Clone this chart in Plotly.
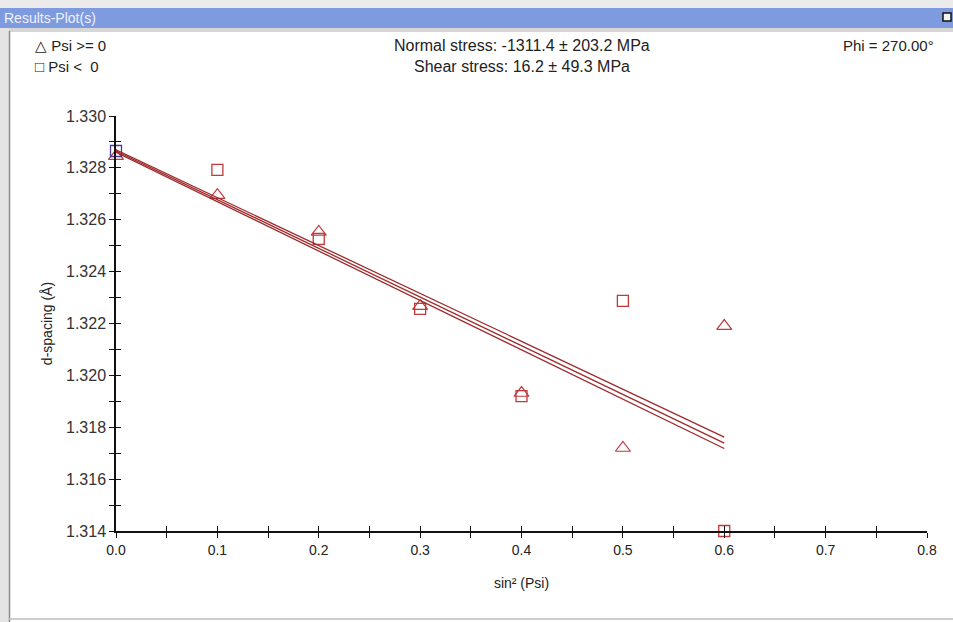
import plotly.graph_objects as go

# ---- data ----
sin2psi = [0.0, 0.1, 0.2, 0.3, 0.4, 0.5, 0.6]
d_psi_pos = [1.32845, 1.32695, 1.32553, 1.32267, 1.31932, 1.31720, 1.32190]   # triangles, Psi >= 0
d_psi_neg = [1.32865, 1.32792, 1.32526, 1.32256, 1.31920, 1.32287, 1.31400]   # squares, Psi < 0
neg_colors = ["#4a3a9c", "#c0393b", "#c0393b", "#c0393b", "#c0393b", "#c0393b", "#c0393b"]

fit_x = [0.0, 0.6]
fit_center = [1.32865, 1.31739]
fit_upper = [1.32870, 1.31762]
fit_lower = [1.32860, 1.31718]

x_tickvals = [0.0, 0.05, 0.1, 0.15, 0.2, 0.25, 0.3, 0.35, 0.4, 0.45, 0.5, 0.55, 0.6, 0.65, 0.7, 0.75, 0.8]
x_ticktext = ["0.0", "", "0.1", "", "0.2", "", "0.3", "", "0.4", "", "0.5", "", "0.6", "", "0.7", "", "0.8"]
y_tickvals = [1.314, 1.315, 1.316, 1.317, 1.318, 1.319, 1.320, 1.321, 1.322, 1.323, 1.324, 1.325,
              1.326, 1.327, 1.328, 1.329, 1.330]
y_ticktext = ["1.314", "", "1.316", "", "1.318", "", "1.320", "", "1.322", "", "1.324", "",
              "1.326", "", "1.328", "", "1.330"]

header_left = ["\u25b3 Psi >= 0", "\u25a1 Psi <  0"]
header_center = ["Normal stress: -1311.4 \u00b1 203.2 MPa", "Shear stress: 16.2 \u00b1 49.3 MPa"]
header_right = "Phi = 270.00\u00b0"
window_title = "Results-Plot(s)"

# ---- geometry ----
W, H = 953, 622
L, R, T, B = 116, 26, 116, 91
PW, PH = W - L - R, H - T - B

def px(x):
    return (x - L) / PW

def py(y):
    return (H - B - y) / PH

FONT = "Liberation Sans, Arial, sans-serif"
RED = "#c0393b"
LINE = "#9e2a2c"
TXT = "#222"

fig = go.Figure()

for yv in (fit_upper, fit_center, fit_lower):
    fig.add_trace(go.Scatter(x=fit_x, y=yv, mode="lines", line=dict(color=LINE, width=1.3),
                             xaxis="x2", yaxis="y2", hoverinfo="skip", showlegend=False))

fig.add_trace(go.Scatter(x=sin2psi, y=d_psi_pos, mode="markers",
                         marker=dict(symbol="triangle-up-open", size=13, color=RED, line=dict(width=1.2)),
                         cliponaxis=False, showlegend=False))
fig.add_trace(go.Scatter(x=sin2psi, y=d_psi_neg, mode="markers",
                         marker=dict(symbol="square-open", size=11, color=neg_colors, line=dict(width=1.3)),
                         cliponaxis=False, showlegend=False))

axis_common = dict(showgrid=False, zeroline=False, ticklen=5, tickwidth=1.3, tickcolor="#111")

fig.update_layout(
    width=W, height=H,
    margin=dict(l=L, r=R, t=T, b=B, pad=0),
    paper_bgcolor="white", plot_bgcolor="white",
    font=dict(family=FONT, color=TXT),
    xaxis=dict(range=[0, 0.8], tickvals=x_tickvals, ticktext=x_ticktext, ticks="outside",
               showline=True, linecolor="#111", linewidth=1.5,
               tickfont=dict(size=14, family=FONT, color=TXT),
               title=dict(text="sin\u00b2 (Psi)", font=dict(size=14, family=FONT, color=TXT), standoff=22),
               **axis_common),
    yaxis=dict(range=[1.314, 1.330], tickvals=y_tickvals, ticktext=y_ticktext, ticks="outside",
               showline=True, linecolor="#111", linewidth=1.5,
               tickfont=dict(size=16, family=FONT, color="#333"),
               title=dict(text="d-spacing (\u00c5)", font=dict(size=14, family=FONT, color=TXT), standoff=10),
               **axis_common),
    xaxis2=dict(range=[0, 0.8], tickvals=x_tickvals, ticks="inside", showticklabels=False,
                showline=False, overlaying="x", anchor="y2", **axis_common),
    yaxis2=dict(range=[1.314, 1.330], tickvals=y_tickvals, ticks="inside", showticklabels=False,
                showline=False, overlaying="y", anchor="x2", **axis_common),
)

shapes = [
    dict(type="rect", xref="paper", yref="paper", x0=px(0), x1=px(W), y0=py(0), y1=py(8),
         fillcolor="#ebebeb", line=dict(width=0), layer="above"),
    dict(type="rect", xref="paper", yref="paper", x0=px(0), x1=px(W), y0=py(8), y1=py(28),
         fillcolor="#7f9be0", line=dict(width=0), layer="above"),
    dict(type="rect", xref="paper", yref="paper", x0=px(0), x1=px(W), y0=py(28), y1=py(32),
         fillcolor="#d6d6d6", line=dict(width=0), layer="above"),
    dict(type="rect", xref="paper", yref="paper", x0=px(0), x1=px(9), y0=py(28), y1=py(H),
         fillcolor="#e4e4e4", line=dict(width=0), layer="above"),
    dict(type="line", xref="paper", yref="paper", x0=px(9.5), x1=px(9.5), y0=py(31), y1=py(H),
         line=dict(color="#8a8a8a", width=1.5), layer="above"),
    dict(type="line", xref="paper", yref="paper", x0=px(9), x1=px(W), y0=py(619), y1=py(619),
         line=dict(color="#bdbdbd", width=1.5), layer="above"),
    dict(type="rect", xref="paper", yref="paper", x0=px(943), x1=px(951), y0=py(13), y1=py(21),
         fillcolor="#f4f4f4", line=dict(color="#111", width=1.5), layer="above"),
]
fig.update_layout(shapes=shapes)

ann = [
    dict(text=window_title, x=px(2), y=py(18), xanchor="left", yanchor="middle",
         font=dict(size=14, color="#eef2fb", family=FONT)),
    dict(text=header_left[0], x=px(33), y=py(45), xanchor="left", yanchor="middle",
         font=dict(size=15, color=TXT, family=FONT)),
    dict(text=header_left[1], x=px(33), y=py(66), xanchor="left", yanchor="middle",
         font=dict(size=15, color=TXT, family=FONT)),
    dict(text=header_center[0], x=px(522), y=py(45), xanchor="center", yanchor="middle",
         font=dict(size=16, color=TXT, family=FONT)),
    dict(text=header_center[1], x=px(522), y=py(66), xanchor="center", yanchor="middle",
         font=dict(size=16, color=TXT, family=FONT)),
    dict(text=header_right, x=px(936), y=py(45), xanchor="right", yanchor="middle",
         font=dict(size=15, color=TXT, family=FONT)),
]
for a in ann:
    a.update(xref="paper", yref="paper", showarrow=False)
fig.update_layout(annotations=ann)

fig.write_html("out.html", config={"displayModeBar": False},
               post_script="document.body.style.margin='0';document.body.style.overflow='hidden';")
